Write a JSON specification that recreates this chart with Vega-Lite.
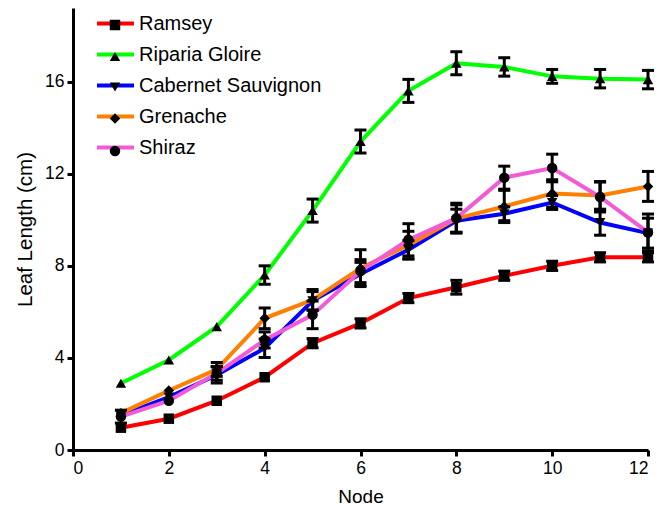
{
  "$schema": "https://vega.github.io/schema/vega-lite/v6.json",
  "width": 575,
  "height": 442,
  "autosize": {"type": "none"},
  "padding": {"left": 73, "top": 8, "right": 20, "bottom": 58},
  "background": "white",
  "config": {
    "view": {"stroke": null},
    "font": "Liberation Sans",
    "axis": {
      "grid": false,
      "domainColor": "black",
      "domainWidth": 3,
      "tickColor": "black",
      "tickWidth": 3,
      "tickSize": 6,
      "labelFont": "Liberation Sans",
      "labelFontSize": 17.5,
      "labelColor": "black",
      "labelPadding": 3,
      "titleFont": "Liberation Sans",
      "titleFontWeight": "normal",
      "titleColor": "black"
    },
    "legend": {
      "labelFont": "Liberation Sans",
      "labelFontSize": 20,
      "labelColor": "black",
      "labelLimit": 400,
      "padding": 0,
      "titleFontSize": 0
    }
  },
  "data": {
    "values": [
      {"node": 1, "variety": "Ramsey", "length": 0.97, "err": 0},
      {"node": 2, "variety": "Ramsey", "length": 1.36, "err": 0},
      {"node": 3, "variety": "Ramsey", "length": 2.14, "err": 0},
      {"node": 4, "variety": "Ramsey", "length": 3.16, "err": 0},
      {"node": 5, "variety": "Ramsey", "length": 4.64, "err": 0.2},
      {"node": 6, "variety": "Ramsey", "length": 5.5, "err": 0.2},
      {"node": 7, "variety": "Ramsey", "length": 6.6, "err": 0.2},
      {"node": 8, "variety": "Ramsey", "length": 7.07, "err": 0.3},
      {"node": 9, "variety": "Ramsey", "length": 7.57, "err": 0.2},
      {"node": 10, "variety": "Ramsey", "length": 8.0, "err": 0.2},
      {"node": 11, "variety": "Ramsey", "length": 8.37, "err": 0.2},
      {"node": 12, "variety": "Ramsey", "length": 8.37, "err": 0.2},
      {"node": 1, "variety": "Riparia Gloire", "length": 2.9, "err": 0},
      {"node": 2, "variety": "Riparia Gloire", "length": 3.91, "err": 0},
      {"node": 3, "variety": "Riparia Gloire", "length": 5.36, "err": 0},
      {"node": 4, "variety": "Riparia Gloire", "length": 7.6, "err": 0.4},
      {"node": 5, "variety": "Riparia Gloire", "length": 10.4, "err": 0.5},
      {"node": 6, "variety": "Riparia Gloire", "length": 13.4, "err": 0.5},
      {"node": 7, "variety": "Riparia Gloire", "length": 15.6, "err": 0.5},
      {"node": 8, "variety": "Riparia Gloire", "length": 16.8, "err": 0.5},
      {"node": 9, "variety": "Riparia Gloire", "length": 16.64, "err": 0.4},
      {"node": 10, "variety": "Riparia Gloire", "length": 16.23, "err": 0.3},
      {"node": 11, "variety": "Riparia Gloire", "length": 16.13, "err": 0.4},
      {"node": 12, "variety": "Riparia Gloire", "length": 16.09, "err": 0.4},
      {"node": 1, "variety": "Cabernet Sauvignon", "length": 1.5, "err": 0},
      {"node": 2, "variety": "Cabernet Sauvignon", "length": 2.3, "err": 0},
      {"node": 3, "variety": "Cabernet Sauvignon", "length": 3.26, "err": 0.35},
      {"node": 4, "variety": "Cabernet Sauvignon", "length": 4.42, "err": 0.4},
      {"node": 5, "variety": "Cabernet Sauvignon", "length": 6.48, "err": 0.4},
      {"node": 6, "variety": "Cabernet Sauvignon", "length": 7.65, "err": 0.5},
      {"node": 7, "variety": "Cabernet Sauvignon", "length": 8.7, "err": 0.4},
      {"node": 8, "variety": "Cabernet Sauvignon", "length": 9.96, "err": 0.5},
      {"node": 9, "variety": "Cabernet Sauvignon", "length": 10.26, "err": 0.3},
      {"node": 10, "variety": "Cabernet Sauvignon", "length": 10.75, "err": 0.3},
      {"node": 11, "variety": "Cabernet Sauvignon", "length": 9.88, "err": 0.55},
      {"node": 12, "variety": "Cabernet Sauvignon", "length": 9.42, "err": 0.65},
      {"node": 1, "variety": "Grenache", "length": 1.6, "err": 0},
      {"node": 2, "variety": "Grenache", "length": 2.58, "err": 0},
      {"node": 3, "variety": "Grenache", "length": 3.5, "err": 0.3},
      {"node": 4, "variety": "Grenache", "length": 5.72, "err": 0.45},
      {"node": 5, "variety": "Grenache", "length": 6.52, "err": 0.45},
      {"node": 6, "variety": "Grenache", "length": 7.9, "err": 0.8},
      {"node": 7, "variety": "Grenache", "length": 8.9, "err": 0.6},
      {"node": 8, "variety": "Grenache", "length": 10.05, "err": 0.6},
      {"node": 9, "variety": "Grenache", "length": 10.58, "err": 0.7},
      {"node": 10, "variety": "Grenache", "length": 11.14, "err": 0.6},
      {"node": 11, "variety": "Grenache", "length": 11.06, "err": 0.6},
      {"node": 12, "variety": "Grenache", "length": 11.45, "err": 0.65},
      {"node": 1, "variety": "Shiraz", "length": 1.45, "err": 0.28},
      {"node": 2, "variety": "Shiraz", "length": 2.14, "err": 0},
      {"node": 3, "variety": "Shiraz", "length": 3.33, "err": 0.3},
      {"node": 4, "variety": "Shiraz", "length": 4.78, "err": 0.35},
      {"node": 5, "variety": "Shiraz", "length": 5.87, "err": 0.6},
      {"node": 6, "variety": "Shiraz", "length": 7.77, "err": 0.5},
      {"node": 7, "variety": "Shiraz", "length": 9.13, "err": 0.7},
      {"node": 8, "variety": "Shiraz", "length": 10.07, "err": 0.65},
      {"node": 9, "variety": "Shiraz", "length": 11.83, "err": 0.5},
      {"node": 10, "variety": "Shiraz", "length": 12.25, "err": 0.6},
      {"node": 11, "variety": "Shiraz", "length": 10.99, "err": 0.65},
      {"node": 12, "variety": "Shiraz", "length": 9.45, "err": 0.8}
    ]
  },
  "encoding": {
    "x": {
      "field": "node",
      "type": "quantitative",
      "scale": {"domain": [0, 12], "nice": false},
      "axis": {"title": "Node", "values": [0, 2, 4, 6, 8, 10, 12], "titlePadding": 11, "titleFontSize": 19}
    },
    "y": {
      "field": "length",
      "type": "quantitative",
      "scale": {"domain": [0, 19.2], "nice": false},
      "axis": {"title": "Leaf Length (cm)", "values": [0, 4, 8, 12, 16], "titlePadding": 9, "titleFontSize": 20.5}
    }
  },
  "layer": [
    {
      "mark": {"type": "line", "strokeWidth": 4},
      "encoding": {
        "color": {
          "field": "variety",
          "type": "nominal",
          "scale": {
            "domain": ["Ramsey", "Riparia Gloire", "Cabernet Sauvignon", "Grenache", "Shiraz"],
            "range": ["#ff0000", "#00ff00", "#0000ff", "#ff8000", "#f35bd6"]
          },
          "legend": {
            "title": null,
            "orient": "none",
            "legendX": 22,
            "legendY": -5,
            "rowPadding": -1.75,
            "symbolType": "stroke",
            "symbolSize": 1369,
            "symbolStrokeWidth": 4,
            "labelOffset": 3
          }
        }
      }
    },
    {
      "transform": [{"filter": "datum.err > 0"}],
      "mark": {
        "type": "errorbar",
        "color": "black",
        "opacity": 1,
        "thickness": 3,
        "rule": {"color": "black", "opacity": 1, "strokeWidth": 3},
        "ticks": {"size": 12, "thickness": 3, "color": "black", "opacity": 1}
      },
      "encoding": {
        "y": {"field": "length", "type": "quantitative"},
        "yError": {"field": "err"}
      }
    },
    {
      "mark": {"type": "point", "filled": true, "color": "black", "opacity": 1, "size": 110},
      "encoding": {
        "shape": {
          "field": "variety",
          "type": "nominal",
          "sort": ["Ramsey", "Riparia Gloire", "Cabernet Sauvignon", "Grenache", "Shiraz"],
          "scale": {
            "range": ["square", "triangle-up", "triangle-down", "diamond", "circle"]
          },
          "legend": {
            "title": null,
            "orient": "none",
            "legendX": 36,
            "legendY": 11,
            "rowPadding": 14.5,
            "symbolSize": 110,
            "symbolFillColor": "black",
            "symbolStrokeColor": "black",
            "labelExpr": "''",
            "labelFontSize": 1,
            "labelOffset": 0
          }
        }
      }
    }
  ]
}
